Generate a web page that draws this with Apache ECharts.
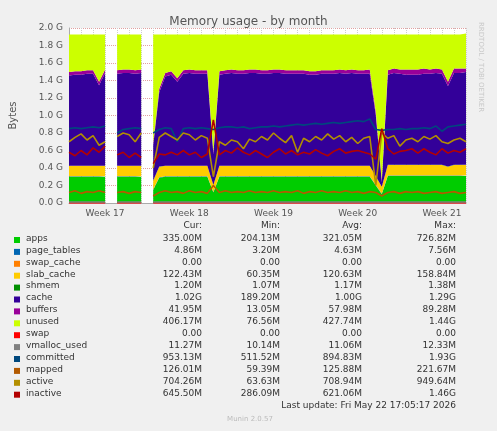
<!DOCTYPE html>
<html><head><meta charset="utf-8">
<script src="https://cdn.jsdelivr.net/npm/echarts@6/dist/echarts.min.js"></script>
<style>html,body{margin:0;padding:0;background:#f0f0f0}#c{width:497px;height:431px}</style>
</head><body><div id="c"></div>
<script>
// x categories: half-day steps
const weekLabels = {6:'Week 17',20:'Week 18',34:'Week 19',48:'Week 20',62:'Week 21'};
const N = 67;
const cats = Array.from({length:N},(_, i)=>String(i));

const apps = [.30,.30,.30,.30,.30,.30,.30,null,.30,.30,
  .30,.30,.30,null,.15,.29,.30,.30,.30,.30,
  .30,.30,.30,.30,.12,.30,.30,.30,.30,.30,
  .30,.30,.30,.30,.30,.30,.30,.30,.30,.30,
  .30,.30,.30,.30,.30,.30,.30,.30,.30,.30,
  .30,.20,.10,.31,.31,.31,.31,.31,.31,.31,
  .31,.31,.31,.31,.31,.31,.31];
const pageTables = [.005,.005,.005,.005,.005,.005,.005,null,.005,.005,
  .005,.005,.005,null,.005,.005,.005,.005,.005,.005,
  .005,.005,.005,.005,.005,.005,.005,.005,.005,.005,
  .005,.005,.005,.005,.005,.005,.005,.005,.005,.005,
  .005,.005,.005,.005,.005,.005,.005,.005,.005,.005,
  .005,.005,.005,.005,.005,.005,.005,.005,.005,.005,
  .005,.005,.005,.005,.005,.005,.005];
const swapCache = [0,0,0,0,0,0,0,null,0,0, 0,0,0,null,0,0,0,0,0,0, 0,0,0,0,0,0,0,0,0,0, 0,0,0,0,0,0,0,0,0,0, 0,0,0,0,0,0,0,0,0,0, 0,0,0,0,0,0,0,0,0,0, 0,0,0,0,0,0,0];
const slabCache = [.12,.12,.12,.12,.12,.12,.12,null,.12,.12,
  .12,.12,.12,null,.10,.12,.12,.12,.12,.12,
  .12,.12,.12,.12,.08,.12,.12,.12,.12,.12,
  .12,.12,.12,.12,.12,.12,.12,.12,.12,.12,
  .12,.12,.12,.12,.12,.12,.12,.12,.12,.12,
  .12,.10,.08,.12,.12,.12,.12,.12,.12,.12,
  .12,.12,.12,.10,.12,.12,.12];
const shmem = [.001,.001,.001,.001,.001,.001,.001,null,.001,.001,
  .001,.001,.001,null,.001,.001,.001,.001,.001,.001,
  .001,.001,.001,.001,.001,.001,.001,.001,.001,.001,
  .001,.001,.001,.001,.001,.001,.001,.001,.001,.001,
  .001,.001,.001,.001,.001,.001,.001,.001,.001,.001,
  .001,.001,.001,.001,.001,.001,.001,.001,.001,.001,
  .001,.001,.001,.001,.001,.001,.001];
const cache = [1.03,1.04,1.04,1.05,1.05,0.92,1.06,null,1.05,1.06,
  1.06,1.05,1.06,null,0.40,0.85,1.02,1.04,0.96,1.05,
  1.06,1.05,1.05,1.05,0.35,1.04,1.05,1.06,1.05,1.05,
  1.06,1.06,1.05,1.05,1.06,1.06,1.05,1.05,1.05,1.05,
  1.04,1.04,1.05,1.05,1.05,1.06,1.05,1.06,1.05,1.05,
  1.05,0.70,0.05,1.03,1.05,1.04,1.03,1.03,1.03,1.04,
  1.04,1.05,1.04,0.92,1.05,1.05,1.06];
const buffers = [.04,.04,.04,.04,.04,.04,.04,null,.04,.04,
  .04,.04,.04,null,.03,.04,.04,.04,.04,.04,
  .04,.04,.04,.04,.03,.04,.04,.04,.04,.04,
  .04,.04,.04,.04,.04,.04,.04,.04,.04,.04,
  .04,.04,.04,.04,.04,.04,.04,.04,.04,.04,
  .05,.04,.03,.05,.05,.05,.06,.06,.06,.06,
  .05,.05,.05,.05,.05,.05,.04];
const unused = [.43,.42,.42,.41,.41,.54,.40,null,.41,.40,
  .40,.41,.40,null,1.24,.62,.44,.42,.50,.41,
  .40,.41,.41,.41,1.34,.42,.41,.40,.41,.41,
  .40,.40,.41,.41,.40,.40,.41,.41,.41,.41,
  .42,.42,.41,.41,.41,.40,.41,.40,.41,.41,
  .40,.88,1.66,.41,.39,.40,.40,.40,.40,.39,
  .40,.39,.40,.54,.39,.39,.40];

const swap = [0,0,0,0,0,0,0,null,0,0, 0,0,0,null,0,0,0,0,0,0, 0,0,0,0,0,0,0,0,0,0, 0,0,0,0,0,0,0,0,0,0, 0,0,0,0,0,0,0,0,0,0, 0,0,0,0,0,0,0,0,0,0, 0,0,0,0,0,0,0];
const vmallocUsed = [.011,.011,.011,.011,.011,.011,.011,null,.011,.011, .011,.011,.011,null,.011,.011,.011,.011,.011,.011, .011,.011,.011,.011,.011,.011,.011,.011,.011,.011, .011,.011,.011,.011,.011,.011,.011,.011,.011,.011, .011,.011,.011,.011,.011,.011,.011,.011,.011,.011, .011,.011,.011,.011,.011,.011,.011,.011,.011,.011, .011,.011,.011,.011,.011,.011,.011];
const committed = [.85,.86,.85,.86,.87,.86,.88,null,.80,.84,
  .85,.86,.85,null,.80,.84,.86,.85,.70,.85,
  .86,.85,.86,.85,.84,.86,.87,.87,.86,.87,
  .85,.86,.87,.87,.88,.87,.88,.89,.90,.89,
  .90,.91,.90,.91,.92,.91,.92,.93,.94,.93,
  .96,.84,.83,.84,.84,.85,.84,.85,.85,.86,
  .85,.88,.82,.87,.88,.89,.90];
const mapped = [.12,.14,.11,.13,.12,.14,.12,null,.12,.13,
  .11,.13,.12,null,.08,.12,.14,.12,.13,.11,
  .14,.12,.13,.11,.20,.12,.14,.12,.13,.12,
  .14,.12,.13,.12,.14,.12,.13,.12,.14,.11,
  .13,.12,.14,.12,.13,.12,.14,.12,.13,.11,
  .13,.12,.08,.12,.13,.11,.13,.12,.13,.11,
  .12,.13,.11,.12,.13,.11,.12];
const active = [.70,.75,.79,.72,.77,.66,.70,null,.76,.80,
  .78,.70,.80,null,.40,.75,.80,.76,.72,.80,
  .78,.72,.77,.74,.30,.70,.66,.72,.70,.62,
  .73,.70,.76,.72,.80,.74,.69,.77,.58,.74,
  .70,.76,.72,.79,.73,.77,.70,.75,.68,.74,
  .76,.20,.80,.74,.77,.65,.72,.74,.70,.76,
  .73,.77,.70,.68,.72,.74,.70];
const inactive = [.58,.54,.60,.55,.63,.58,.65,null,.55,.58,
  .52,.57,.52,null,.45,.56,.55,.58,.55,.60,
  .55,.58,.52,.56,.95,.55,.60,.57,.63,.58,
  .55,.60,.56,.52,.58,.62,.56,.60,.55,.58,
  .56,.61,.57,.54,.59,.62,.57,.59,.60,.58,
  .56,.50,.85,.62,.56,.59,.60,.62,.57,.62,
  .58,.55,.62,.57,.60,.58,.62];

const legendNames = ['apps','page_tables','swap_cache','slab_cache','shmem','cache','buffers','unused','swap','vmalloc_used','committed','mapped','active','inactive'];
const legendColors = ['#00CC00','#0066B3','#FF8000','#FFCC00','#008F00','#330099','#990099','#CCFF00','#FF0000','#808080','#00487D','#B35A00','#B38F00','#B30000'];
const curVals = ['335.00M','4.86M','0.00','122.43M','1.20M','1.02G','41.95M','406.17M','0.00','11.27M','953.13M','126.01M','704.26M','645.50M'];
const minVals = ['204.13M','3.20M','0.00','60.35M','1.07M','189.20M','13.05M','76.56M','0.00','10.14M','511.52M','59.39M','63.63M','286.09M'];
const avgVals = ['321.05M','4.63M','0.00','120.63M','1.17M','1.00G','57.98M','427.74M','0.00','11.06M','894.83M','125.88M','708.94M','621.06M'];
const maxVals = ['726.82M','7.56M','0.00','158.84M','1.38M','1.29G','89.28M','1.44G','0.00','12.33M','1.93G','221.67M','949.64M','1.46G'];

const stacked = [apps,pageTables,swapCache,slabCache,shmem,cache,buffers,unused];
const lines = [swap,vmallocUsed,committed,mapped,active,inactive];

const series = [];
stacked.forEach((d,i)=>series.push({name:legendNames[i],type:'line',stack:'a',data:d,showSymbol:false,
  lineStyle:{width:0},areaStyle:{color:legendColors[i],opacity:1},itemStyle:{color:legendColors[i]},z:2}));
lines.forEach((d,j)=>{const i=j+8;series.push({name:legendNames[i],type:'line',data:d,showSymbol:false,
  lineStyle:{width:1.6,color:legendColors[i]},itemStyle:{color:legendColors[i]},z:3});});

const font='DejaVu Sans';
const g=[];
const hdrY=227, y0=240, dy=11.9;
[['Cur:',202],['Min:',280],['Avg:',362],['Max:',456]].forEach(([t,x])=>g.push({type:'text',right:497-x,top:hdrY-6,style:{text:t,font:'9px '+font,fill:'#333'}}));
legendNames.forEach((n,i)=>{
  const y=y0+i*dy;
  g.push({type:'rect',shape:{x:14,y:y-3,width:6,height:6},style:{fill:legendColors[i]}});
  g.push({type:'text',x:26,y:y-6,style:{text:n,font:'9px '+font,fill:'#333'}});
  [[curVals,202],[minVals,280],[avgVals,362],[maxVals,456]].forEach(([arr,x])=>
    g.push({type:'text',x:x,y:y-6,style:{text:arr[i],font:'9px '+font,fill:'#333',align:'right'}}));
});
g.push({type:'text',x:456,y:401,style:{text:'Last update: Fri May 22 17:05:17 2026',font:'9px '+font,fill:'#333',align:'right'}});
g.push({type:'text',x:250,y:416,style:{text:'Munin 2.0.57',font:'7px '+font,fill:'#bbb',align:'center'}});
g.push({type:'text',x:484,y:22,rotation:-Math.PI/2,style:{text:'RRDTOOL / TOBI OETIKER',font:'7px '+font,fill:'#c8c8c8'}});

const chart=echarts.init(document.getElementById('c'));
chart.setOption({
  backgroundColor:'#f0f0f0',animation:false,
  title:{text:'Memory usage - by month',left:'center',top:11,textStyle:{fontFamily:font,fontSize:12,fontWeight:'normal',color:'#555'}},
  grid:{left:67,right:31,top:28,bottom:228,show:true,backgroundColor:'#ffffff',borderWidth:0},
  xAxis:{type:'category',data:cats,boundaryGap:false,
    axisLine:{lineStyle:{color:'#aaa'}},axisTick:{show:false},
    axisLabel:{interval:0,formatter:(v,i)=>weekLabels[i]||'',fontFamily:font,fontSize:9,color:'#555',margin:6},
    splitLine:{show:true,interval:(i)=>i%2===0,lineStyle:{type:'dotted',color:'#ccc'}}},
  yAxis:{type:'value',min:0,max:2,interval:0.2,name:'Bytes',nameLocation:'middle',nameGap:51,
    nameTextStyle:{fontFamily:font,fontSize:10,color:'#555'},
    axisLine:{show:true,lineStyle:{color:'#aaa'}},axisTick:{show:false},
    axisLabel:{formatter:v=>v.toFixed(1)+' G',fontFamily:font,fontSize:9,color:'#555',margin:6},
    splitLine:{lineStyle:{type:'dotted',color:'#e0a0a0'}}},
  series:series,
  graphic:g
});
</script></body></html>
